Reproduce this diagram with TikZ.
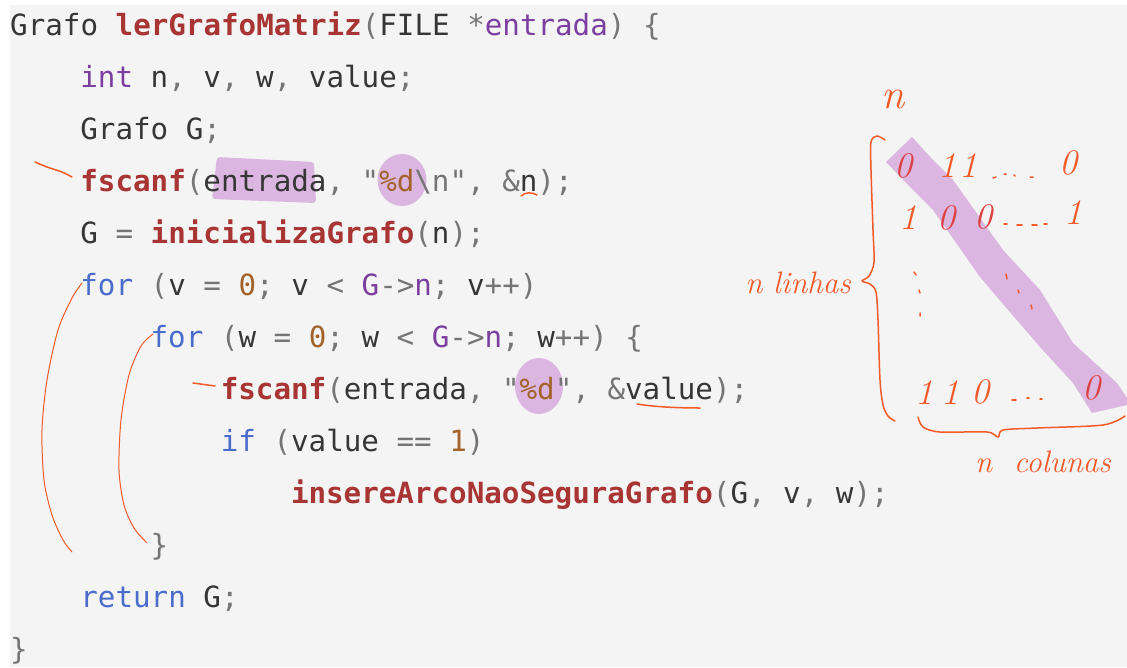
\documentclass[tikz,border=0pt]{standalone}
\usepackage{fontspec}
\newfontfamily\codefont{DejaVu Sans Mono}
\definecolor{codebg}{HTML}{F4F4F4}
\definecolor{codefg}{HTML}{363636}
\definecolor{punccol}{HTML}{757575}
\definecolor{fncol}{HTML}{A83434}
\definecolor{kwcol}{HTML}{4A6CCB}
\definecolor{tycol}{HTML}{7B3FA0}
\definecolor{numcol}{HTML}{A2622A}
\definecolor{inkcol}{HTML}{F25A29}
\definecolor{inkdark}{HTML}{DC4040}
\definecolor{hlcol}{HTML}{DBB6E0}
\newcommand\cfn[1]{\textcolor{fncol}{\bfseries #1}}
\newcommand\ckw[1]{\textcolor{kwcol}{#1}}
\newcommand\cty[1]{\textcolor{tycol}{#1}}
\newcommand\cnum[1]{\textcolor{numcol}{#1}}
\newcommand\cpu[1]{\textcolor{punccol}{#1}}
\begin{document}
\begin{tikzpicture}[x=1pt, y=-1pt,
codeline/.style={anchor=base west, inner sep=0pt, text=codefg,
  font=\codefont\fontsize{29.2}{35}\selectfont},
ink/.style={draw=inkcol, line width=1.5pt, line cap=round, line join=round},
hand/.style={inner sep=0pt, text=inkcol, font=\fontsize{36}{40}\selectfont\itshape},
marker/.style={fill=hlcol}]
\useasboundingbox (0,0) rectangle (1127,667);
\fill[codebg] (10,5) rectangle (1127,667);

% highlighter marks
\fill[marker, rounded corners=3pt] (217,157) -- (314,162) -- (316,203) -- (212,199) -- cycle;
\fill[marker] (402,180) ellipse [x radius=24.5pt, y radius=26pt];
\fill[marker] (539,386) ellipse [x radius=24pt, y radius=28pt];
\fill[marker] (912,137) -- (933,160) -- (953,180) -- (1003,250) -- (1040,290)
  -- (1073,343) -- (1117,383) -- (1127,398) -- (1127,405) -- (1092,413)
  -- (1073,383) -- (1040,347) -- (997,297) -- (980,277) -- (933,210)
  -- (913,190) -- (886,162) -- cycle;

% code
\node[codeline] (l1) at (10,35) {Grafo \cfn{lerGrafoMatriz}\cpu{(}FILE \cpu{*}\cty{entrada}\cpu{)} \cpu{\{}};
\node[codeline] (l2) at (80.2,87) {\cty{int} n\cpu{,} v\cpu{,} w\cpu{,} value\cpu{;}};
\node[codeline] (l3) at (80.2,139) {Grafo G\cpu{;}};
\node[codeline] (l4) at (80.2,191) {\cfn{fscanf}\cpu{(}entrada\cpu{,} \cpu{"}\cnum{\%d}\cpu{\textbackslash n"}\cpu{,} \cpu{\&}n\cpu{);}};
\node[codeline] (l5) at (80.2,243) {G \cpu{=} \cfn{inicializaGrafo}\cpu{(}n\cpu{);}};
\node[codeline] (l6) at (80.2,295) {\ckw{for} \cpu{(}v \cpu{=} \cnum{0}\cpu{;} v \cpu{<} \cty{G}\cpu{->}\cty{n}\cpu{;} v\cpu{++)}};
\node[codeline] (l7) at (150.4,347) {\ckw{for} \cpu{(}w \cpu{=} \cnum{0}\cpu{;} w \cpu{<} \cty{G}\cpu{->}\cty{n}\cpu{;} w\cpu{++)} \cpu{\{}};
\node[codeline] (l8) at (220.6,399) {\cfn{fscanf}\cpu{(}entrada\cpu{,} \cpu{"}\cnum{\%d}\cpu{"}\cpu{,} \cpu{\&}value\cpu{);}};
\node[codeline] (l9) at (220.6,451) {\ckw{if} \cpu{(}value \cpu{==} \cnum{1}\cpu{)}};
\node[codeline] (l10) at (290.8,503) {\cfn{insereArcoNaoSeguraGrafo}\cpu{(}G\cpu{,} v\cpu{,} w\cpu{);}};
\node[codeline] (l11) at (150.4,555) {\cpu{\}}};
\node[codeline] (l12) at (80.2,607) {\ckw{return} G\cpu{;}};
\node[codeline] (l13) at (10,659) {\cpu{\}}};

% pen strokes on the code
\draw[ink] plot[smooth] coordinates {(35,162) (47,167) (62,172) (72,177)};
\draw[ink] (521,196) .. controls (525,192) and (532,192) .. (537,195);
\draw[ink, line width=1pt] plot[smooth] coordinates {(82,283) (72,298) (58,330) (47,380) (42,430) (44,480) (52,515) (63,540) (72,552)};
\draw[ink, line width=1pt] plot[smooth] coordinates {(153,334) (141,346) (129,375) (121,420) (119,470) (124,505) (134,528) (147,543)};
\draw[ink] (193,383) -- (215,386);
\draw[ink] (637,404) .. controls (655,407) and (680,408) .. (700,408);

% the matrix
\node[hand, font=\fontsize{42}{46}\selectfont\itshape] (ntop) at (893,99) {n};
\node[hand, text=inkdark] (m11) at (903,166) {0};
\node[hand] (m12) at (947,166) {1};
\node[hand] (m13) at (968,166) {1};
\node[hand] (m1n) at (1068,163) {0};
\node[hand] (m21) at (908,218) {1};
\node[hand, text=inkdark] (m22) at (946,218) {0};
\node[hand, text=inkdark] (m23) at (983,217) {0};
\node[hand] (m2n) at (1073,213) {1};
\node[hand] (mn1) at (924,393) {1};
\node[hand] (mn2) at (950,393) {1};
\node[hand] (mn3) at (980,392) {0};
\node[hand, text=inkdark] (mnn) at (1091,388) {0};
\draw[ink] (993,178) -- (996,177) (1004,174) -- (1006,174) (1014,175) -- (1015,176) (1030,177) -- (1033,177);
\draw[ink] (1004,224) -- (1007,224) (1017,225) -- (1022,225) (1032,225) -- (1037,225) (1044,224) -- (1047,224);
\draw[ink] (1012,400) -- (1016,400) (1027,398) -- (1029,398) (1040,399) -- (1042,399);
\draw[ink] (914,272) -- (916,275) (919,290) -- (920,293) (920,313) -- (920,316);
\draw[ink] (1006,274) -- (1007,279) (1018,290) -- (1019,293) (1031,305) -- (1032,309);

% braces
\draw[ink] plot[smooth] coordinates {(885,140) (877,136) (871,142) (871,170) (873,230) (874,262) (869,276) (862,281) (870,284) (876,292) (878,320) (880,380) (883,405) (888,416) (895,421)};
\draw[ink] plot[smooth] coordinates {(918,417) (923,427) (940,432) (987,432) (998,437) (1003,430) (1037,428) (1103,425) (1125,416)};
\node[hand, font=\fontsize{31}{36}\selectfont\itshape] (rows) at (798,283) {n linhas};
\node[hand, font=\fontsize{31}{36}\selectfont\itshape] (cols) at (1043,462) {n\ \ colunas};
\end{tikzpicture}
\end{document}
